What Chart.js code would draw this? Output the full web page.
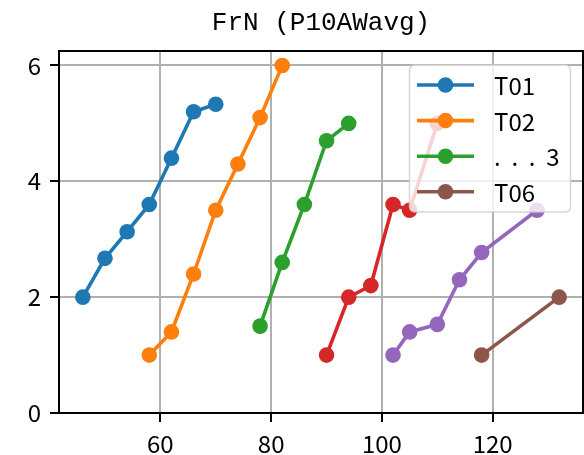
<!DOCTYPE html>
<html>
<head>
<meta charset="utf-8">
<script src="https://cdn.jsdelivr.net/npm/chart.js@4/dist/chart.umd.min.js"></script>
<style>
    html, body { margin: 0; padding: 0; background: #fff; }
    #wrap { width: 584px; height: 455px; }
</style>
</head>
<body>
<div id="wrap"><canvas id="chart"></canvas></div>
<script>
// Series data
const t01X = [46, 50, 54, 58, 62, 66, 70];
const t01Y = [2.0, 2.67, 3.13, 3.6, 4.4, 5.2, 5.33];
const t02X = [58, 62, 66, 70, 74, 78, 82];
const t02Y = [1.0, 1.4, 2.4, 3.5, 4.3, 5.1, 6.0];
const t03X = [78, 82, 86, 90, 94];
const t03Y = [1.5, 2.6, 3.6, 4.7, 5.0];
const t04X = [90, 94, 98, 102, 105, 110];
const t04Y = [1.0, 2.0, 2.2, 3.6, 3.5, 5.0];
const t05X = [102, 105, 110, 114, 118, 128];
const t05Y = [1.0, 1.4, 1.53, 2.3, 2.77, 3.5];
const t06X = [118, 132];
const t06Y = [1.0, 2.0];

const seriesLabels = ['T01', 'T02', '.  .  .  3', 'T04', 'T05', 'T06'];
const legendLabels = ['T01', 'T02', '.  .  .  3', 'T06'];
const xTicks = [60, 80, 100, 120];
const yTicks = [0, 2, 4, 6];

const colors = ['#1f77b4', '#ff7f0e', '#2ca02c', '#d62728', '#9467bd', '#8c564b'];
const TICK_FONT = "'Noto Sans CJK JP', 'Noto Sans', sans-serif";

const pairs = (xs, ys) => xs.map((x, i) => ({ x, y: ys[i] }));
const allX = [t01X, t02X, t03X, t04X, t05X, t06X];
const allY = [t01Y, t02Y, t03Y, t04Y, t05Y, t06Y];

const datasets = allX.map((xs, i) => ({
    label: seriesLabels[i],
    data: pairs(xs, allY[i]),
    showLine: true,
    borderColor: colors[i],
    backgroundColor: colors[i],
    borderWidth: 3.6,
    pointRadius: 7.8,
    pointBorderWidth: 0,
    pointHoverRadius: 7.8,
}));

// matplotlib style frame: all four spines
const framePlugin = {
    id: 'frame',
    afterDatasetsDraw(chart) {
        const { ctx, chartArea: a } = chart;
        ctx.save();
        ctx.strokeStyle = '#000';
        ctx.lineWidth = 2;
        ctx.strokeRect(a.left, a.top, a.right - a.left, a.bottom - a.top);
        ctx.restore();
    },
};

// Legend box inside the plot, upper right
const boxLegend = {
    id: 'boxLegend',
    afterDraw(chart) {
        const { ctx } = chart;
        const items = chart.data.datasets.filter(d => legendLabels.includes(d.label));
        const x0 = 409.5, y0 = 65, w = 161, h = 147, r = 5;
        ctx.save();
        ctx.beginPath();
        ctx.roundRect(x0, y0, w, h, r);
        ctx.fillStyle = 'rgba(255,255,255,0.8)';
        ctx.fill();
        ctx.strokeStyle = 'rgba(204,204,204,0.8)';
        ctx.lineWidth = 1.5;
        ctx.stroke();
        ctx.font = "24px " + TICK_FONT;
        ctx.textBaseline = 'middle';
        items.forEach((d, i) => {
            const y = 85 + i * 35.6;
            ctx.strokeStyle = d.borderColor;
            ctx.lineWidth = 3.6;
            ctx.beginPath();
            ctx.moveTo(417, y);
            ctx.lineTo(474, y);
            ctx.stroke();
            ctx.fillStyle = d.backgroundColor;
            ctx.beginPath();
            ctx.arc(445.5, y, 7.8, 0, Math.PI * 2);
            ctx.fill();
            ctx.fillStyle = '#000';
            ctx.fillText(d.label, 494, y + 1);
        });
        ctx.restore();
    },
};

new Chart(document.getElementById('chart'), {
    type: 'scatter',
    data: { datasets },
    options: {
        responsive: true,
        maintainAspectRatio: false,
        animation: false,
        layout: { autoPadding: false, padding: { left: 0, right: 1, top: 0, bottom: 0 } },
        scales: {
            x: {
                type: 'linear',
                min: 41.7,
                max: 136.3,
                afterFit: s => { s.height = 42; },
                afterBuildTicks: s => { s.ticks = xTicks.map(v => ({ value: v })); },
                ticks: {
                    color: '#000',
                    font: { family: TICK_FONT, size: 24 },
                    padding: 7,
                    maxRotation: 0,
                },
                grid: { color: '#b0b0b0', lineWidth: 2, tickLength: 9, tickColor: '#000', tickWidth: 2 },
                border: { display: true, color: '#000', width: 2 },
            },
            y: {
                type: 'linear',
                min: 0,
                max: 6.25,
                afterFit: s => { s.width = 59; },
                afterBuildTicks: s => { s.ticks = yTicks.map(v => ({ value: v })); },
                ticks: {
                    color: '#000',
                    font: { family: TICK_FONT, size: 24 },
                    padding: 9,
                },
                grid: { color: '#b0b0b0', lineWidth: 2, tickLength: 9, tickColor: '#000', tickWidth: 2 },
                border: { display: true, color: '#000', width: 2 },
            },
        },
        plugins: {
            legend: { display: false },
            tooltip: { enabled: false },
            title: {
                display: true,
                fullSize: false,
                text: 'FrN (P10AWavg)',
                color: '#000',
                font: { family: "'Liberation Mono', monospace", size: 26, weight: 'normal', lineHeight: 1.2 },
                padding: { top: 8, bottom: 11.8 },
            },
        },
    },
    plugins: [framePlugin, boxLegend],
});
</script>
</body>
</html>
